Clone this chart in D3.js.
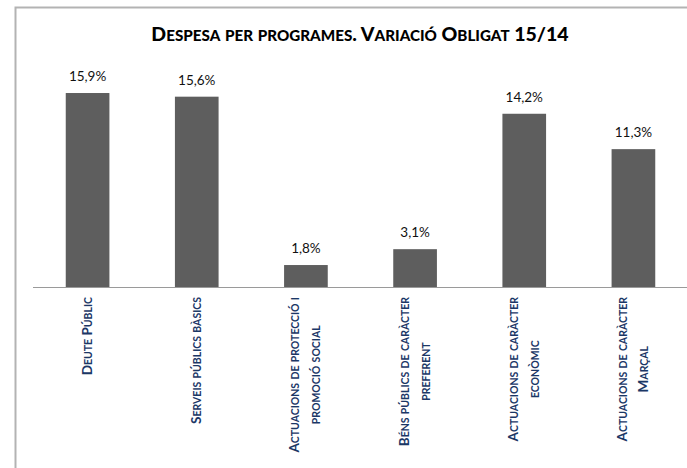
<!DOCTYPE html>
<html>
<head>
<meta charset="utf-8">
<script src="https://cdn.jsdelivr.net/npm/d3@7"></script>
<style>
  body { margin: 0; background: #fff; }
  svg text { font-family: Lato, "Open Sans", sans-serif; }
</style>
</head>
<body>
<div id="chart"></div>
<script>
const categories = [
    ["Deute Públic"],
    ["Serveis públics bàsics"],
    ["Actuacions de protecció i", "promoció social"],
    ["Béns públics de caràcter", "preferent"],
    ["Actuacions de caràcter", "econòmic"],
    ["Actuacions de caràcter", "Marçal"]
]
const values = [15.9, 15.6, 1.8, 3.1, 14.2, 11.3]
const valueLabels = ["15,9%", "15,6%", "1,8%", "3,1%", "14,2%", "11,3%"]
const title = "Despesa per programes. Variació Obligat 15/14"

const W = 687, H = 468
const data = categories.map((c, i) => ({ cat: c, key: i, value: values[i], label: valueLabels[i] }))

// Excel-like small caps: lowercase letters drawn as smaller capitals
function smallCaps(sel, str, big, small) {
    const runs = []
    for (const ch of str) {
        const low = ch !== ch.toUpperCase()
        if (runs.length && runs[runs.length - 1].low === low) runs[runs.length - 1].s += ch
        else runs.push({ low: low, s: ch })
    }
    runs.forEach(r => {
        sel.append("tspan")
            .style("font-size", (r.low ? small : big) + "px")
            .text(r.s.toUpperCase())
    })
}

const svg = d3.select("#chart")
    .append("svg")
    .attr("width", W)
    .attr("height", H)

// frame of the chart area (runs past the window on right and bottom)
svg.append("rect")
    .attr("x", 15.5)
    .attr("y", 7.5)
    .attr("width", 700)
    .attr("height", 500)
    .attr("fill", "none")
    .attr("stroke", "#b3b3b3")
    .attr("stroke-width", 2)

const titleText = svg.append("text")
    .attr("x", 360)
    .attr("y", 41)
    .attr("text-anchor", "middle")
    .style("font-weight", "900")
    .attr("fill", "#000")
smallCaps(titleText, title, 19.5, 15.2)

/* X-scale */
let x = d3.scaleBand()
    .range([33, 688])
    .domain(data.map(d => d.key))
    .paddingInner(0.6)
    .paddingOuter(0.3)

/* Y-scale */
let y = d3.scaleLinear()
    .domain([0, 18])
    .range([287, 287 - 18 * 12.2])

svg.selectAll("bar")
    .data(data)
    .enter()
    .append("rect")
    .attr("x", d => x(d.key))
    .attr("y", d => y(d.value))
    .attr("width", x.bandwidth())
    .attr("height", d => y(0) - y(d.value))
    .attr("fill", "#5e5e5e")

/* X-axis line */
svg.append("line")
    .attr("x1", 33)
    .attr("x2", W)
    .attr("y1", y(0) + 0.5)
    .attr("y2", y(0) + 0.5)
    .attr("stroke", "#9a9a9a")
    .attr("stroke-width", 1)

svg.selectAll("bar-label")
    .data(data)
    .enter()
    .append("text")
    .text(d => d.label)
    .attr("x", d => x(d.key) + x.bandwidth() / 2)
    .attr("y", d => y(d.value) - 12)
    .attr("text-anchor", "middle")
    .style("font-size", "13.5px")
    .attr("fill", "#111")

// category labels, rotated, lines centred on each other
const lineGap = 21
data.forEach(d => {
    const cx = x(d.key) + x.bandwidth() / 2
    const n = d.cat.length
    const g = svg.append("g")
        .attr("transform", `translate(${cx}, 297) rotate(-90)`)
    const texts = d.cat.map((line, j) => {
        const t = g.append("text")
            .attr("y", (j - (n - 1) / 2) * lineGap + 4)
            .style("font-weight", "bold")
            .attr("fill", "#1b3766")
        smallCaps(t, line, 13.5, 10.5)
        return t
    })
    // first line starts right under the axis, others centred on it
    const len0 = texts[0].node().getComputedTextLength()
    texts.forEach(t => t.attr("x", -len0 / 2).attr("text-anchor", "middle"))
})
</script>
</body>
</html>
